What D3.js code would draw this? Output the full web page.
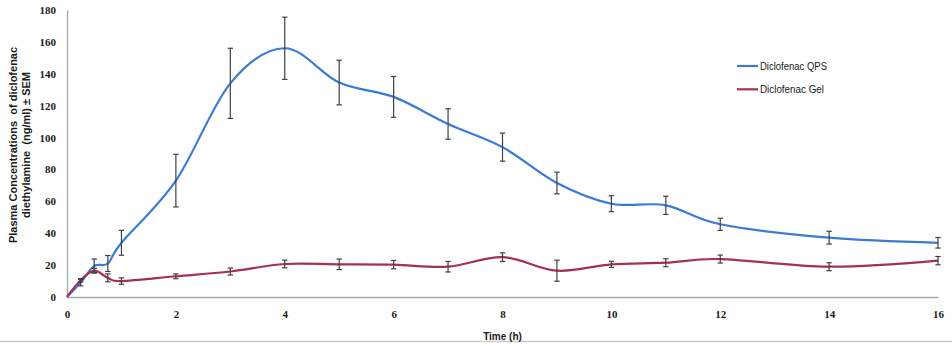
<!DOCTYPE html>
<html>
<head>
<meta charset="utf-8">
<script src="https://cdn.jsdelivr.net/npm/d3@7"></script>
<style>
    body { margin: 0; background: #ffffff; }
    svg { display: block; }
    .axistitle { font-family: "Liberation Sans", Arial, sans-serif; font-size: 10px; font-weight: bold; fill: #1a1a1a; }
    .ytitle { font-family: "Liberation Sans", Arial, sans-serif; font-size: 11px; font-weight: bold; fill: #1a1a1a; white-space: pre; }
    .legend { font-family: "Liberation Sans", Arial, sans-serif; font-size: 10px; fill: #1a1a1a; }
</style>
</head>
<body>
<script>
// sampling times (h)
var times = [0, 0.25, 0.5, 0.75, 1, 2, 3, 4, 5, 6, 7, 8, 9, 10, 11, 12, 14, 16];

// mean plasma concentration (ng/ml) and SEM
var qps = [0, 9, 19.5, 21, 34, 73, 134, 156, 134.5, 125.5, 108.5, 94, 71.5, 58.5, 57.5, 45.6, 37.2, 34];
var qpsSem = [0, 2, 4.3, 5, 7.8, 16.5, 22, 19.5, 14, 12.8, 9.5, 8.8, 6.8, 5, 5.7, 3.8, 4, 3.3];
var gel = [0, 10.5, 16.5, 12, 10, 13, 16, 20.7, 20.5, 20.3, 19, 25, 16.5, 20.5, 21.5, 23.8, 19, 22.8];
var gelSem = [0, 1, 1.5, 2.5, 2, 1.5, 2.2, 2.4, 3.3, 2.6, 3.3, 2.7, 6.6, 1.9, 2.5, 2.5, 2.5, 2.6];

var seriesNames = ["Diclofenac QPS", "Diclofenac Gel"];
var seriesColors = ["#3b7bd6", "#a6304f"];

var xTicks = [0, 2, 4, 6, 8, 10, 12, 14, 16];
var yTicks = [0, 20, 40, 60, 80, 100, 120, 140, 160, 180];

var width = 952, height = 346;
var plotLeft = 67, plotRight = 938, plotTop = 10, plotBottom = 297;

let svg = d3.select("body").append("svg")
    .attr("width", width)
    .attr("height", height);

let x = d3.scaleLinear().domain([0, 16]).range([plotLeft, plotRight]);
let y = d3.scaleLinear().domain([0, 180]).range([plotBottom, plotTop]);

// frame line at the very bottom of the picture
svg.append("line")
    .attr("x1", 0).attr("x2", width)
    .attr("y1", 341.5).attr("y2", 341.5)
    .attr("stroke", "#c9cccc")
    .attr("stroke-width", 1.5);

// axes
let xAxis = d3.axisBottom(x).tickValues(xTicks).tickSize(0).tickPadding(13);
let yAxis = d3.axisLeft(y).tickValues(yTicks).tickSize(0).tickPadding(11);

function styleAxis(g) {
    g.select(".domain").attr("stroke", "#a3a8a8").attr("stroke-width", 1.3);
    g.selectAll("text")
        .style("font-family", "'Liberation Serif', 'Times New Roman', serif")
        .style("font-size", "11px")
        .style("font-weight", "bold")
        .style("fill", "#1a1a1a");
}

let gx = svg.append("g")
    .attr("transform", "translate(0," + y(0) + ")")
    .call(xAxis);
styleAxis(gx);

let gy = svg.append("g")
    .attr("transform", "translate(" + x(0) + ",0)")
    .call(yAxis);
styleAxis(gy);

// axis titles
svg.append("text")
    .attr("class", "axistitle")
    .attr("x", (plotLeft + plotRight) / 2)
    .attr("y", 340)
    .attr("text-anchor", "middle")
    .text("Time (h)");

let ty = svg.append("text")
    .attr("class", "ytitle")
    .attr("transform", "translate(0,145) rotate(-90)")
    .attr("text-anchor", "middle");
ty.append("tspan").attr("x", 0).attr("y", 17).text("Plasma Concentrations  of diclofenac");
ty.append("tspan").attr("x", 0).attr("y", 30).text("diethylamine  (ng/ml) \u00b1 SEM");

// smoothed lines, then error bars
let line = d3.line()
    .x(function(d) { return x(d.t); })
    .y(function(d) { return y(d.v); })
    .curve(d3.curveCardinal.tension(0));

let allSeries = [
    { name: seriesNames[0], color: seriesColors[0], values: qps, sem: qpsSem },
    { name: seriesNames[1], color: seriesColors[1], values: gel, sem: gelSem }
];

allSeries.forEach(function(s) {
    let pts = times.map(function(t, i) { return { t: t, v: s.values[i], e: s.sem[i] }; });

    svg.append("path")
        .datum(pts)
        .attr("fill", "none")
        .attr("stroke", s.color)
        .attr("stroke-width", 2.2)
        .attr("d", line);
});

allSeries.forEach(function(s) {
    let pts = times.map(function(t, i) { return { t: t, v: s.values[i], e: s.sem[i] }; })
        .filter(function(d) { return d.e > 0; });

    let bars = svg.append("g")
        .selectAll("g")
        .data(pts)
        .enter().append("g")
        .attr("stroke", "#3c4142")
        .attr("stroke-width", 1.2);

    bars.append("line")
        .attr("x1", function(d) { return x(d.t); })
        .attr("x2", function(d) { return x(d.t); })
        .attr("y1", function(d) { return y(d.v + d.e); })
        .attr("y2", function(d) { return y(d.v - d.e); });

    bars.append("line")
        .attr("x1", function(d) { return x(d.t) - 2.7; })
        .attr("x2", function(d) { return x(d.t) + 2.7; })
        .attr("y1", function(d) { return y(d.v + d.e); })
        .attr("y2", function(d) { return y(d.v + d.e); });

    bars.append("line")
        .attr("x1", function(d) { return x(d.t) - 2.7; })
        .attr("x2", function(d) { return x(d.t) + 2.7; })
        .attr("y1", function(d) { return y(d.v - d.e); })
        .attr("y2", function(d) { return y(d.v - d.e); });
});

// legend
let legend = svg.selectAll(".legenditem")
    .data(allSeries)
    .enter().append("g")
    .attr("class", "legenditem")
    .attr("transform", function(d, i) { return "translate(737," + (66 + i * 23.3) + ")"; });

legend.append("line")
    .attr("x1", 0).attr("x2", 21)
    .attr("y1", 0).attr("y2", 0)
    .attr("stroke", function(d) { return d.color; })
    .attr("stroke-width", 2.2);

legend.append("text")
    .attr("class", "legend")
    .attr("x", 23)
    .attr("y", 0)
    .attr("dy", "0.35em")
    .attr("textLength", function(d, i) { return i == 0 ? 67 : 64; })
    .attr("lengthAdjust", "spacingAndGlyphs")
    .text(function(d) { return d.name; });
</script>
</body>
</html>
